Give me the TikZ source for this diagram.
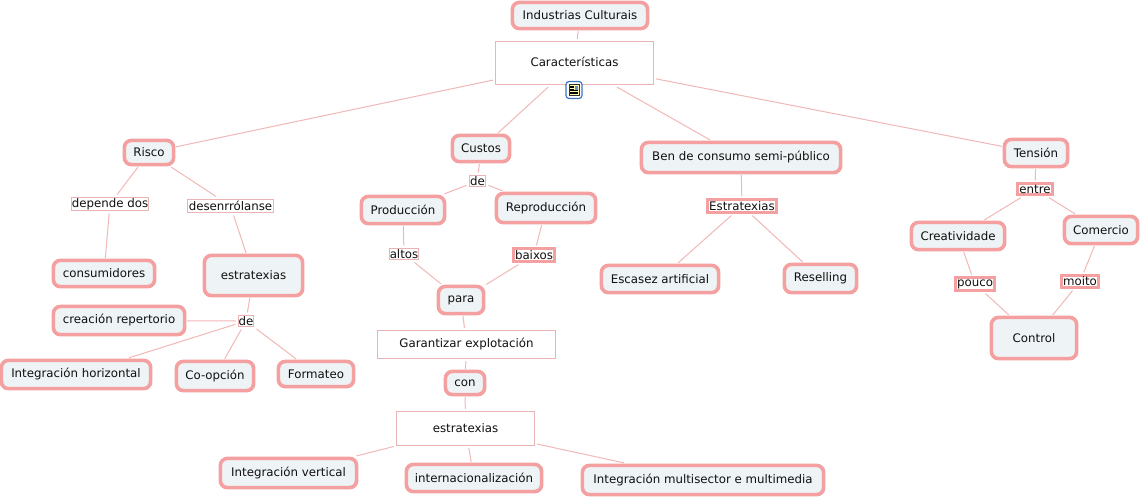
\documentclass[tikz,border=0pt]{standalone}
\usepackage{fontspec}
\setmainfont{DejaVu Sans}
\definecolor{bord}{HTML}{F5A0A0}
\definecolor{thin}{HTML}{EBB4B4}
\definecolor{lnk}{HTML}{F2B8B8}
\definecolor{fillc}{HTML}{EEF3F5}
\definecolor{txt}{HTML}{101010}
\definecolor{icob}{HTML}{3C74C4}
\tikzset{
 base/.style={font=\fontsize{11.8}{14}\selectfont,text=txt,inner sep=0pt,outer sep=2.5pt},
 box/.style={base,draw=bord,line width=3.6pt,fill=fillc,rounded corners=7pt},
 plain/.style={base,draw=thin,line width=1pt,fill=white},
 lab/.style={base,draw=thin,line width=1pt,fill=white,outer sep=3pt},
 labb/.style={base,draw=bord,line width=2.8pt,fill=white,outer sep=3pt},
 lnkline/.style={draw=lnk,line width=1pt},
}
\newcommand{\bx}[7]{\node[#1,minimum width=#5-#4-2.8,minimum height=#7-#6-2.8] (#2) at ({(#4+#5)/2},{(#6+#7)/2}) {#3};}
\newcommand{\rx}[7]{\node[#1,minimum width=#5-#4-1,minimum height=#7-#6-1] (#2) at ({(#4+#5)/2},{(#6+#7)/2}) {#3};}
\begin{document}
\begin{tikzpicture}[x=1pt,y=-1pt]
\useasboundingbox[fill=white] (0,0) rectangle (1142,498);
\bx{box}{ind}{Industrias Culturais}{511}{649}{1}{30}
\rx{plain}{car}{\raisebox{2pt}{Características}}{495}{654}{41}{85}
\bx{box}{risco}{Risco}{123}{175}{139}{166}
\bx{box}{custos}{Custos}{451}{511}{134}{163}
\bx{box}{ben}{Ben de consumo semi-público}{640}{842}{141}{174}
\bx{box}{tens}{Tensión}{1003}{1069}{138}{168}
\rx{lab}{dep}{depende dos}{71}{149}{197}{211}
\rx{lab}{des}{desenrrólanse}{187}{274}{199}{213}
\bx{box}{cons}{consumidores}{52}{156}{259}{288}
\bx{box}{est}{estratexias}{203}{304}{254}{297}
\bx{box}{crea}{creación repertorio}{52}{186}{305}{336}
\rx{lab}{dea}{de}{238}{254}{315}{327}
\bx{box}{inth}{Integración horizontal}{0}{152}{359}{390}
\bx{box}{coop}{Co-opción}{175}{255}{360}{392}
\bx{box}{form}{Formateo}{277}{355}{360}{388}
\rx{lab}{deb}{de}{469}{486}{175}{187}
\bx{box}{prod}{Producción}{360}{446}{195}{225}
\bx{box}{repr}{Reproducción}{495}{597}{192}{224}
\rx{lab}{alt}{altos}{389}{419}{248}{260}
\bx{labb}{bai}{baixos}{512}{556}{247}{263}
\bx{box}{para}{para}{437}{485}{285}{315}
\rx{plain}{gar}{Garantizar explotación}{377}{556}{330}{359}
\bx{box}{con}{con}{444}{486}{370}{396}
\rx{plain}{estb}{estratexias}{396}{535}{411}{446}
\bx{box}{intv}{Integración vertical}{219}{358}{457}{489}
\bx{box}{intn}{internacionalización}{405}{543}{463}{493}
\bx{box}{mult}{Integración multisector e multimedia}{581}{825}{464}{496}
\bx{labb}{estc}{Estratexias}{706}{778}{198}{214}
\bx{box}{esc}{Escasez artificial}{600}{720}{264}{294}
\bx{box}{res}{Reselling}{783}{858}{263}{294}
\bx{labb}{ent}{entre}{1016}{1054}{182}{196}
\bx{box}{cre}{Creatividade}{910}{1006}{221}{251}
\bx{box}{com}{Comercio}{1063}{1139}{215}{245}
\bx{labb}{pou}{pouco}{954}{996}{276}{292}
\bx{labb}{moi}{moito}{1060}{1100}{274}{289}
\bx{box}{ctl}{Control}{990}{1078}{316}{360}
\foreach \a/\b in {ind/car,car/risco,car/custos,car/ben,car/tens,risco/dep,risco/des,dep/cons,des/est,est/dea,dea/crea,dea/inth,dea/coop,dea/form,custos/deb,deb/prod,deb/repr,prod/alt,repr/bai,alt/para,bai/para,para/gar,gar/con,con/estb,estb/intv,estb/intn,estb/mult,ben/estc,estc/esc,estc/res,tens/ent,ent/cre,ent/com,cre/pou,com/moi,pou/ctl,moi/ctl}
 \draw[lnkline] (\a) -- (\b);
\node[draw=icob,fill=white,line width=1.2pt,rounded corners=3pt,minimum width=16pt,minimum height=17pt,inner sep=0pt] (ico) at (574,90) {};
\draw[black!80,fill=yellow!30,line width=.6pt] (569,84.5) rectangle (579,95.5);
\fill[icob!80] (574.5,85.5) rectangle (578,89.5);
\foreach \yy in {86,87.5,89}
 \draw[black,line width=.5pt] (570,\yy) -- (574,\yy);
\foreach \yy in {90.5,92,93.5}
 \draw[black,line width=.5pt] (570,\yy) -- (578,\yy);
\end{tikzpicture}
\end{document}
